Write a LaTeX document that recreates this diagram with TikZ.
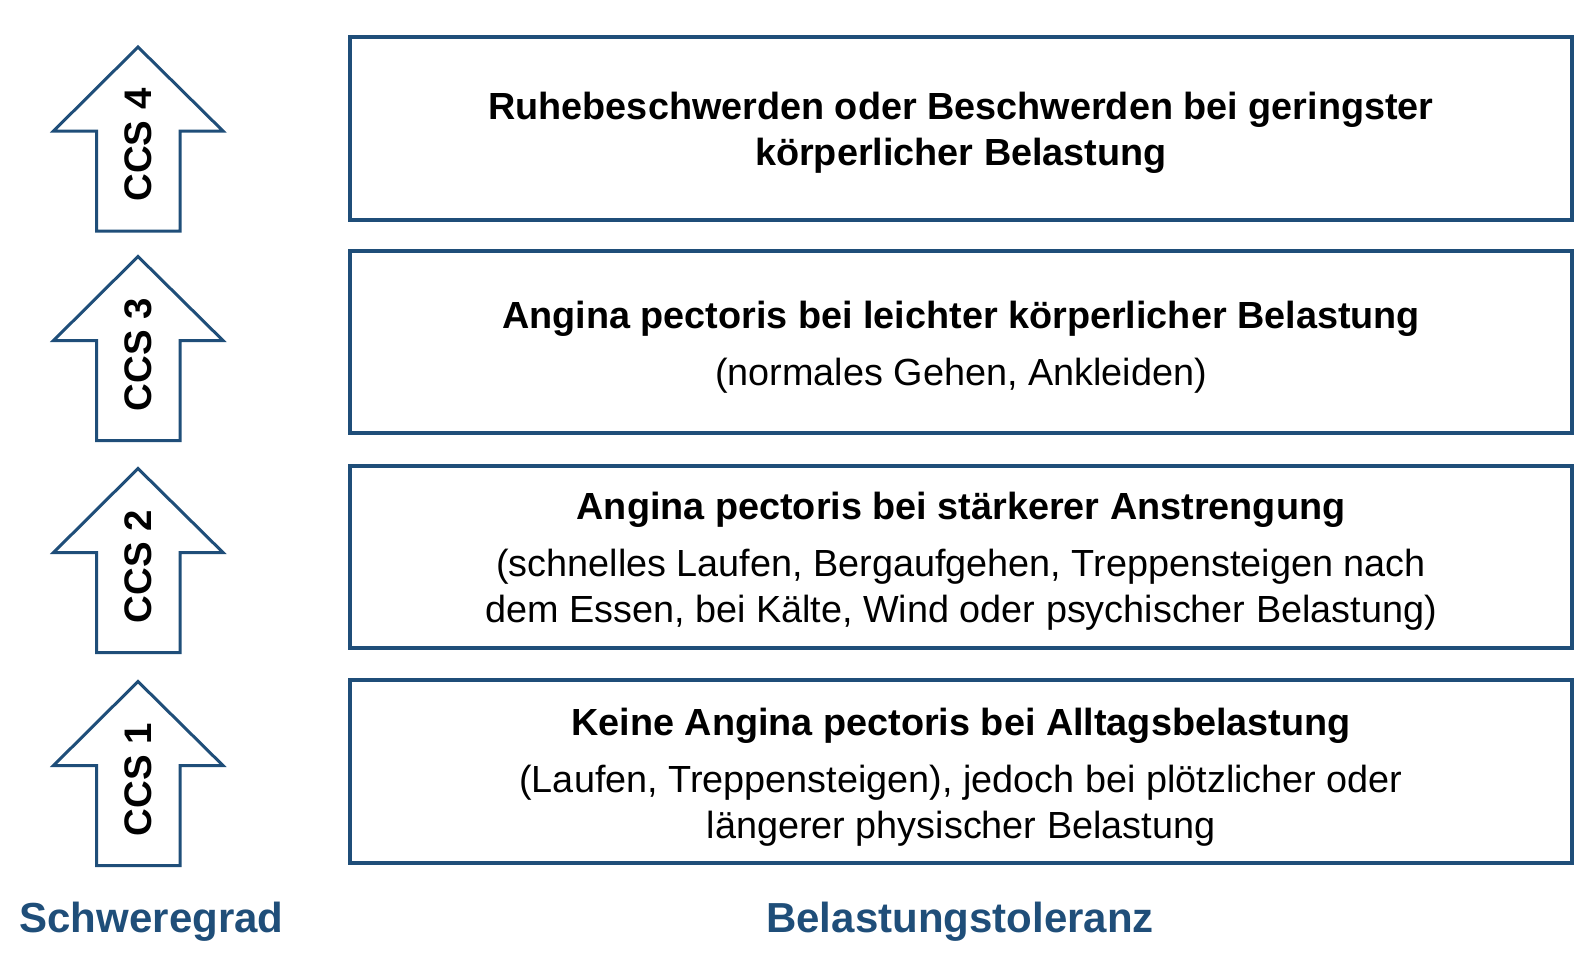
\documentclass[tikz,border=0pt]{standalone}
\usepackage{fontspec}
\setmainfont{Liberation Sans}
\usepackage{tikz}
\usetikzlibrary{positioning}
\usepackage{color}
\definecolor{ccsblue}{RGB}{31, 78, 121}

\begin{document}
\begin{tikzpicture}[x=0.5pt, y=-0.5pt,
        pfeil/.style     = {draw=ccsblue, line width=1.5pt, fill=white, line join=miter},
        ccslabel/.style  = {rotate=90, font=\fontsize{19.2}{20}\selectfont\bfseries, inner sep=0pt},
        stufe/.style     = {draw=ccsblue, line width=2.2pt, minimum width=610.75pt, minimum height=91.25pt, inner sep=0pt},
        stufetext/.style = {align=center, inner sep=0pt, font=\fontsize{18.9}{23}\selectfont},
        achse/.style     = {text=ccsblue, font=\fontsize{21}{24}\selectfont\bfseries, inner sep=0pt}]
            \useasboundingbox (0,0) rectangle (1590,971);
            % Pfeile links
            \foreach \n/\y in {4/47, 3/256.5, 2/468.5, 1/681.5}{
                \draw[pfeil] (138,\y) -- (223,\y+84) -- (180,\y+84) -- (180,\y+184)
                             -- (96.5,\y+184) -- (96.5,\y+84) -- (53.5,\y+84) -- cycle;
                \node[ccslabel] (ccs\n) at (138,\y+98) {CCS \n};
            }
            % Stufen
            \node[stufe] (stufe4) at (961,128.5) {};
            \node[stufe] (stufe3) at (961,342)   {};
            \node[stufe] (stufe2) at (961,557)   {};
            \node[stufe] (stufe1) at (961,771.5) {};
            \node[stufetext] (text4) at ([yshift=-2.3pt]stufe4) {\textbf{Ruhebeschwerden oder Beschwerden bei geringster}\\
                                                                  \textbf{körperlicher Belastung}};
            \node[stufetext] (text3) at ([yshift=-2.6pt]stufe3) {\textbf{Angina pectoris bei leichter körperlicher Belastung}\\[5.5pt]
                                                                  (normales Gehen, Ankleiden)};
            \node[stufetext] (text2) at ([yshift=-2.3pt]stufe2) {\textbf{Angina pectoris bei stärkerer Anstrengung}\\[5.5pt]
                                                                  (schnelles Laufen, Bergaufgehen, Treppensteigen nach\\
                                                                  dem Essen, bei Kälte, Wind oder psychischer Belastung)};
            \node[stufetext] (text1) at ([yshift=-2.8pt]stufe1) {\textbf{Keine Angina pectoris bei Alltagsbelastung}\\[5.5pt]
                                                                  (Laufen, Treppensteigen), jedoch bei plötzlicher oder\\
                                                                  längerer physischer Belastung};
            % Achsen
            \node[achse] (schwere)  at (151.5,922) {Schweregrad};
            \node[achse] (toleranz) at (960,922)   {Belastungstoleranz};
\end{tikzpicture}
\end{document}
